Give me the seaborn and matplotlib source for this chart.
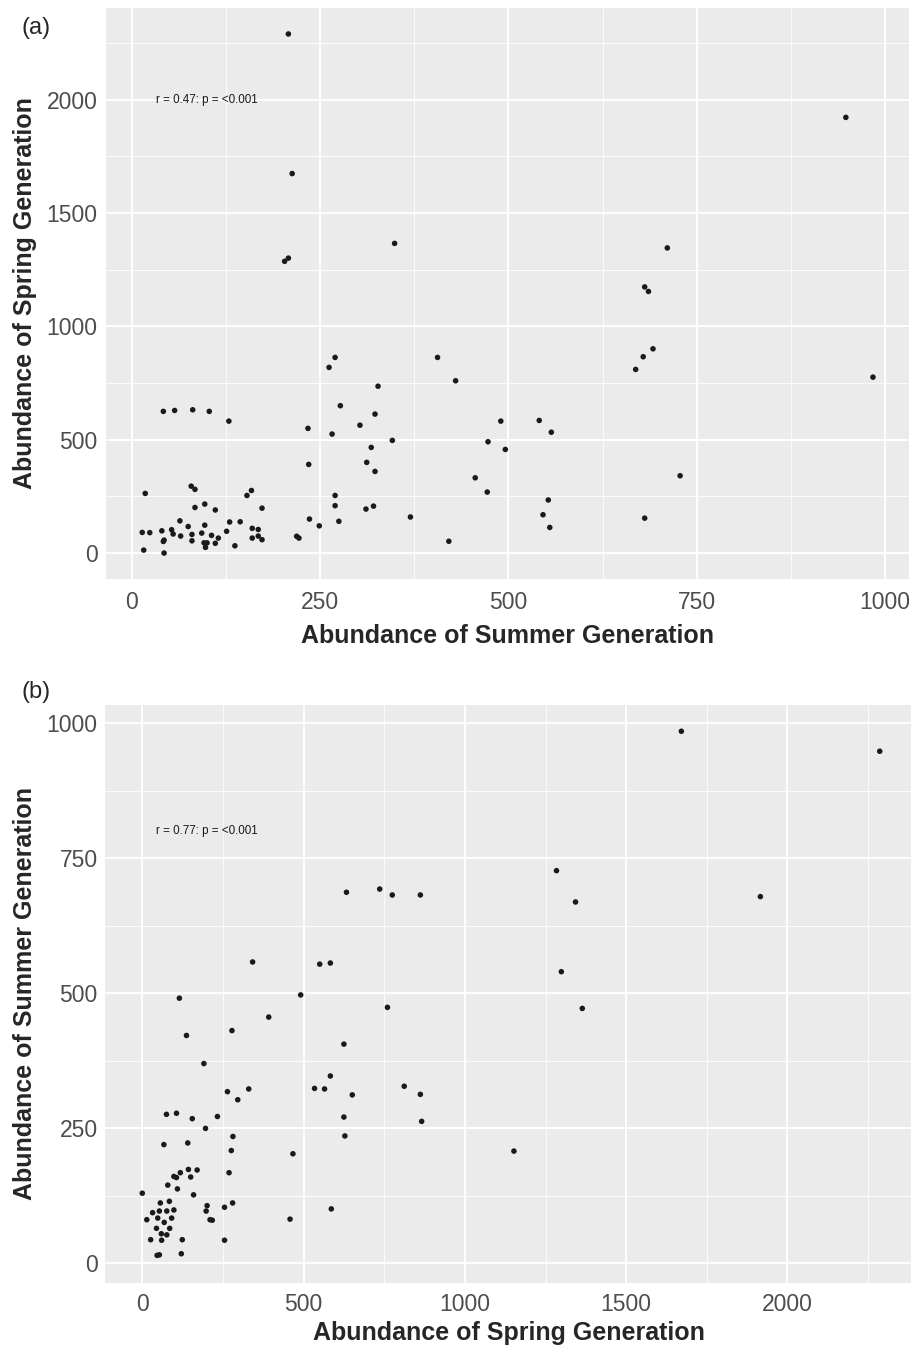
"""Spring vs summer generation abundance: two ggplot-style scatter panels."""

import matplotlib

matplotlib.use("Agg")
import matplotlib.pyplot as plt
import pandas as pd
import seaborn as sns
from matplotlib.ticker import MultipleLocator

# panel (a): summer generation (x) against spring generation (y)
summer_a = [42, 57, 81, 103, 129, 18, 79, 84, 153, 159, 84, 97, 111, 173, 64, 75,
            97, 130, 144, 14, 24, 40, 53, 55, 65, 80, 93, 106, 115, 126, 160, 168,
            160, 168, 173, 42, 43, 80, 96, 100, 98, 111, 137, 16, 43, 219, 222,
            270, 262, 406, 327, 277, 323, 303, 234, 266, 346, 318, 312, 323, 235,
            270, 270, 311, 321, 236, 249, 275, 370, 430, 692, 679, 669, 490, 541,
            557, 473, 496, 456, 472, 553, 546, 555, 728, 681, 421, 208, 213, 203,
            208, 349, 711, 681, 686, 948, 984]
spring_a = [625, 629, 632, 625, 582, 263, 295, 281, 254, 276, 201, 216, 190, 198,
            142, 117, 123, 137, 138, 91, 90, 98, 103, 84, 75, 82, 88, 78, 66, 96,
            109, 104, 66, 75, 59, 51, 57, 54, 45, 45, 25, 43, 32, 13, 0, 74, 66,
            863, 819, 863, 736, 650, 613, 564, 550, 525, 497, 466, 400, 360, 391,
            254, 209, 194, 207, 150, 120, 140, 159, 760, 901, 866, 810, 582, 585,
            533, 491, 457, 332, 269, 234, 169, 113, 341, 154, 52, 2290, 1674, 1287,
            1301, 1366, 1346, 1174, 1154, 1922, 776]

# panel (b): spring generation (x) against summer generation (y)
spring_b = [115, 137, 278, 191, 264, 296, 330, 75, 106, 155, 233, 196, 281, 67,
            141, 276, 269, 118, 143, 170, 98, 106, 150, 79, 109, 0, 159, 56, 84,
            53, 76, 98, 32, 14, 48, 91, 68, 44, 85, 59, 76, 26, 60, 124, 255, 46,
            53, 121, 201, 198, 210, 217, 255, 280, 342, 550, 583, 491, 392, 760,
            625, 583, 534, 565, 651, 812, 862, 625, 866, 628, 467, 586, 458, 633,
            736, 775, 862, 1671, 2286, 1284, 1343, 1916, 1299, 1364, 1152]
summer_b = [491, 422, 431, 370, 318, 303, 323, 276, 278, 268, 272, 250, 235, 220,
            223, 209, 168, 168, 174, 173, 161, 159, 160, 145, 138, 130, 127, 112,
            115, 97, 97, 99, 94, 81, 84, 84, 76, 65, 65, 55, 53, 44, 43, 44, 43,
            15, 16, 18, 107, 97, 81, 80, 104, 112, 558, 554, 556, 497, 456, 474,
            406, 347, 324, 323, 312, 328, 313, 271, 263, 236, 203, 101, 82, 687,
            693, 682, 682, 985, 948, 727, 669, 679, 540, 472, 208]

panel_labels = ["(a)", "(b)"]
stats_text = ["r = 0.47: p = <0.001", "r = 0.77: p = <0.001"]

sns.set_style("darkgrid", {"axes.facecolor": "#EBEBEB", "grid.color": "white"})
plt.rcParams["font.family"] = ["Liberation Sans", "DejaVu Sans"]

W, H = 912, 1347
fig = plt.figure(figsize=(W / 100, H / 100), dpi=100)
ax_a = fig.add_axes([105.7 / W, 1 - 579 / H, (909.5 - 105.7) / W, 571 / H])
ax_b = fig.add_axes([105.5 / W, 1 - 1282.7 / H, (912 - 105.5) / W, 577.7 / H])


def style_panel(ax, xmajor, ymajor, xpad):
    ax.xaxis.set_major_locator(MultipleLocator(xmajor))
    ax.xaxis.set_minor_locator(MultipleLocator(xmajor / 2))
    ax.yaxis.set_major_locator(MultipleLocator(ymajor))
    ax.yaxis.set_minor_locator(MultipleLocator(ymajor / 2))
    ax.grid(which="major", color="white", linewidth=1.3)
    ax.grid(which="minor", color="white", linewidth=0.6)
    ax.set_axisbelow(True)
    for side in ax.spines.values():
        side.set_visible(False)
    ax.tick_params(which="major", length=2.75, width=0.8, color="#333333",
                   labelsize=16.5, labelcolor="#4D4D4D")
    ax.tick_params(axis="x", which="major", pad=xpad)
    ax.tick_params(axis="y", which="major", pad=3)
    ax.tick_params(which="minor", length=0)


dfa = pd.DataFrame({"summer": summer_a, "spring": spring_a})
sns.scatterplot(data=dfa, x="summer", y="spring", ax=ax_a, color="#1A1A1A",
                s=16, edgecolor="none", linewidth=0)
ax_a.set_xlim(-34.5, 1032.5)
ax_a.set_ylim(-114.5, 2404.5)
style_panel(ax_a, 250, 500, 6)
ax_a.set_xlabel("Abundance of Summer Generation", fontsize=18, fontweight="bold",
                labelpad=7)
ax_a.set_ylabel("Abundance of Spring Generation", fontsize=18, fontweight="bold",
                labelpad=7)
ax_a.text(100, 2000, stats_text[0], ha="center", va="center", fontsize=8.4,
          color="#1A1A1A")

dfb = pd.DataFrame({"spring": spring_b, "summer": summer_b})
sns.scatterplot(data=dfb, x="spring", y="summer", ax=ax_b, color="#1A1A1A",
                s=16, edgecolor="none", linewidth=0)
ax_b.set_xlim(-114, 2386)
ax_b.set_ylim(-35.6, 1033.6)
style_panel(ax_b, 500, 250, 5)
ax_b.set_xlabel("Abundance of Spring Generation", fontsize=18, fontweight="bold",
                labelpad=3)
ax_b.set_ylabel("Abundance of Summer Generation", fontsize=18, fontweight="bold",
                labelpad=7)
ax_b.text(200, 800, stats_text[1], ha="center", va="center", fontsize=8.4,
          color="#1A1A1A")

fig.text(22 / W, 1 - 28 / H, panel_labels[0], fontsize=17, ha="left", va="center")
fig.text(22 / W, 1 - 692 / H, panel_labels[1], fontsize=17, ha="left", va="center")

fig.savefig("out.png", dpi=100)
